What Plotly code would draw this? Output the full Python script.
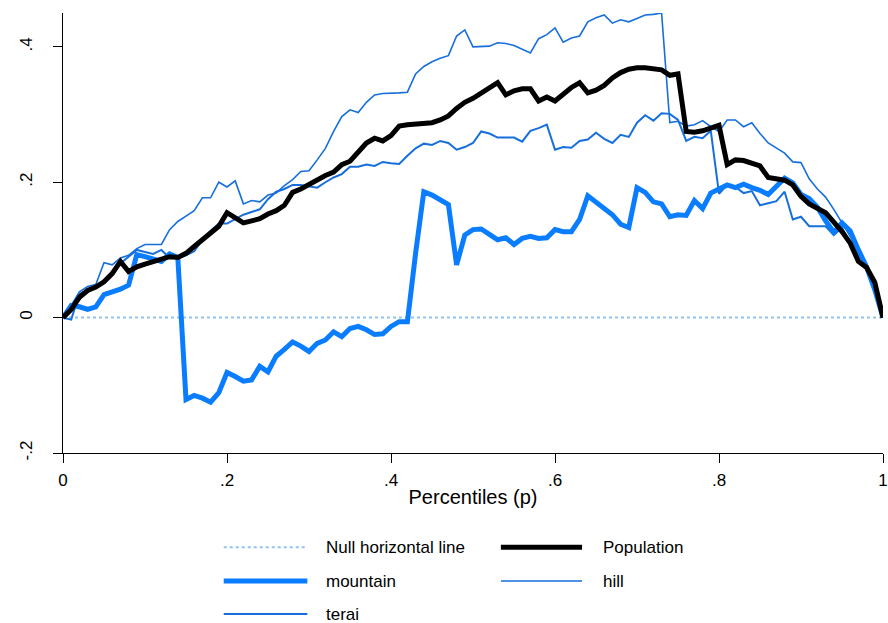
import plotly.graph_objects as go

# Percentiles (p)
p = [0.00, 0.01, 0.02, 0.03, 0.04, 0.05, 0.06, 0.07, 0.08, 0.09,
     0.10, 0.11, 0.12, 0.13, 0.14, 0.15, 0.16, 0.17, 0.18, 0.19,
     0.20, 0.21, 0.22, 0.23, 0.24, 0.25, 0.26, 0.27, 0.28, 0.29,
     0.30, 0.31, 0.32, 0.33, 0.34, 0.35, 0.36, 0.37, 0.38, 0.39,
     0.40, 0.41, 0.42, 0.43, 0.44, 0.45, 0.46, 0.47, 0.48, 0.49,
     0.50, 0.51, 0.52, 0.53, 0.54, 0.55, 0.56, 0.57, 0.58, 0.59,
     0.60, 0.61, 0.62, 0.63, 0.64, 0.65, 0.66, 0.67, 0.68, 0.69,
     0.70, 0.71, 0.72, 0.73, 0.74, 0.75, 0.76, 0.77, 0.78, 0.79,
     0.80, 0.81, 0.82, 0.83, 0.84, 0.85, 0.86, 0.87, 0.88, 0.89,
     0.90, 0.91, 0.92, 0.93, 0.94, 0.95, 0.96, 0.97, 0.98, 0.99, 1.00]

population = [0, 0.012, 0.030, 0.040, 0.045, 0.053, 0.065, 0.083, 0.068, 0.075,
              0.079, 0.083, 0.086, 0.090, 0.089, 0.095, 0.105, 0.115, 0.126, 0.135,
              0.155, 0.148, 0.140, 0.143, 0.146, 0.153, 0.158, 0.166, 0.185, 0.190,
              0.197, 0.203, 0.210, 0.215, 0.226, 0.231, 0.245, 0.258, 0.265, 0.261,
              0.269, 0.283, 0.285, 0.286, 0.287, 0.288, 0.292, 0.298, 0.309, 0.318,
              0.324, 0.331, 0.340, 0.347, 0.329, 0.335, 0.338, 0.338, 0.320, 0.326,
              0.320, 0.330, 0.340, 0.347, 0.332, 0.336, 0.343, 0.354, 0.362, 0.367,
              0.369, 0.369, 0.368, 0.366, 0.358, 0.360, 0.275, 0.274, 0.276, 0.280,
              0.284, 0.226, 0.233, 0.232, 0.228, 0.224, 0.207, 0.205, 0.203, 0.196,
              0.179, 0.168, 0.162, 0.155, 0.141, 0.127, 0.110, 0.083, 0.074, 0.052, 0]

mountain = [0, 0.018, 0.016, 0.012, 0.016, 0.034, 0.038, 0.042, 0.048, 0.093,
            0.090, 0.087, 0.083, 0.094, 0.089, -0.121, -0.115, -0.119, -0.125, -0.111,
            -0.081, -0.087, -0.094, -0.092, -0.072, -0.080, -0.057, -0.047, -0.036, -0.042,
            -0.050, -0.038, -0.033, -0.021, -0.028, -0.016, -0.013, -0.018, -0.025, -0.024,
            -0.013, -0.006, -0.006, 0.095, 0.186, 0.181, 0.175, 0.167, 0.078, 0.122,
            0.130, 0.131, 0.123, 0.115, 0.118, 0.108, 0.117, 0.120, 0.117, 0.118,
            0.130, 0.127, 0.127, 0.145, 0.180, 0.170, 0.160, 0.152, 0.138, 0.133,
            0.192, 0.185, 0.171, 0.168, 0.149, 0.152, 0.151, 0.173, 0.161, 0.184,
            0.190, 0.196, 0.192, 0.197, 0.192, 0.188, 0.182, 0.195, 0.206, 0.199,
            0.182, 0.176, 0.163, 0.143, 0.126, 0.140, 0.128, 0.100, 0.075, 0.041, 0]

hill = [0, 0.018, 0.038, 0.046, 0.049, 0.081, 0.078, 0.088, 0.092, 0.102,
        0.108, 0.108, 0.108, 0.130, 0.142, 0.150, 0.158, 0.177, 0.177, 0.200,
        0.193, 0.202, 0.168, 0.173, 0.171, 0.181, 0.184, 0.195, 0.204, 0.216,
        0.217, 0.233, 0.250, 0.275, 0.297, 0.307, 0.303, 0.318, 0.329, 0.331,
        0.331, 0.332, 0.333, 0.360, 0.371, 0.378, 0.383, 0.387, 0.416, 0.425,
        0.400, 0.400, 0.401, 0.406, 0.405, 0.402, 0.396, 0.391, 0.412, 0.418,
        0.428, 0.407, 0.413, 0.416, 0.437, 0.443, 0.447, 0.435, 0.440, 0.437,
        0.442, 0.447, 0.448, 0.450, 0.288, 0.290, 0.283, 0.285, 0.291, 0.282,
        0.275, 0.292, 0.292, 0.282, 0.288, 0.272, 0.258, 0.250, 0.243, 0.230,
        0.229, 0.205, 0.190, 0.178, 0.160, 0.140, 0.120, 0.097, 0.075, 0.046, 0]

terai = [0, -0.003, 0.035, 0.040, 0.046, 0.055, 0.063, 0.080, 0.090, 0.100,
         0.097, 0.094, 0.100, 0.088, 0.088, 0.092, 0.098, 0.115, 0.128, 0.139,
         0.139, 0.145, 0.152, 0.156, 0.160, 0.175, 0.186, 0.190, 0.196, 0.196,
         0.194, 0.192, 0.200, 0.207, 0.212, 0.223, 0.223, 0.226, 0.224, 0.230,
         0.228, 0.227, 0.239, 0.250, 0.257, 0.255, 0.261, 0.258, 0.248, 0.252,
         0.258, 0.275, 0.272, 0.266, 0.266, 0.266, 0.260, 0.276, 0.280, 0.285,
         0.248, 0.252, 0.251, 0.261, 0.263, 0.273, 0.264, 0.258, 0.270, 0.267,
         0.288, 0.299, 0.291, 0.302, 0.301, 0.292, 0.261, 0.267, 0.265, 0.276,
         0.183, 0.196, 0.193, 0.184, 0.187, 0.166, 0.169, 0.172, 0.186, 0.145,
         0.149, 0.135, 0.135, 0.135, 0.122, 0.133, 0.108, 0.093, 0.075, 0.050, 0]

null_x = [0, 1]
null_y = [0, 0]

x_tickvals = [0, 0.2, 0.4, 0.6, 0.8, 1]
x_ticktext = ["0", ".2", ".4", ".6", ".8", "1"]
y_tickvals = [-0.2, 0, 0.2, 0.4]
y_ticktext = ["-.2", "0", ".2", ".4"]

FONT = "Liberation Sans, Arial, sans-serif"
C_NULL = "#8fc3f5"
C_MOUNT = "#0a7dff"
C_THIN = "#166fdc"

series = [
    ("Null horizontal line", null_x, null_y, dict(color=C_NULL, width=2, dash="dot")),
    ("Population", p, population, dict(color="black", width=5)),
    ("mountain", p, mountain, dict(color=C_MOUNT, width=5)),
    ("hill", p, hill, dict(color=C_THIN, width=1.6)),
    ("terai", p, terai, dict(color=C_THIN, width=2)),
]

fig = go.Figure()
draw_order = [0, 4, 3, 2, 1]
for i in draw_order:
    name, xs, ys, ln = series[i]
    fig.add_trace(go.Scatter(x=xs, y=ys, mode="lines", name=name, line=ln,
                             showlegend=False))

# Manual two-column legend
legend_pos = [(0, 0), (1, 0), (0, 1), (1, 1), (0, 2)]
col_x = [(0.196, 0.298, 0.318), (0.534, 0.633, 0.656)]
row_y = [-0.214, -0.291, -0.366]
for (name, xs, ys, ln), (c, r) in zip(series, legend_pos):
    x0, x1, xt = col_x[c]
    y = row_y[r]
    fig.add_shape(type="line", xref="paper", yref="paper", x0=x0, x1=x1, y0=y, y1=y,
                  line=dict(color=ln["color"], width=ln["width"], dash=ln.get("dash", "solid")))
    fig.add_annotation(xref="paper", yref="paper", x=xt, y=y, text=name, showarrow=False,
                       xanchor="left", yanchor="middle",
                       font=dict(family=FONT, size=17, color="black"))

fig.update_layout(
    width=888, height=623,
    margin=dict(l=63, r=5, t=13, b=170),
    paper_bgcolor="white", plot_bgcolor="white",
    font=dict(family=FONT, size=16, color="black"),
    showlegend=False,
)
fig.update_xaxes(range=[0, 1], tickvals=x_tickvals, ticktext=x_ticktext,
                 showgrid=False, zeroline=False, showline=True, linecolor="black",
                 linewidth=1, ticks="outside", ticklen=9, tickcolor="black",
                 tickfont=dict(family=FONT, size=17), ticklabeloverflow="allow",
                 ticklabelstandoff=3, automargin=False,
                 title=dict(text="Percentiles (p)", font=dict(family=FONT, size=20), standoff=0))
fig.update_yaxes(range=[-0.2, 0.45], tickvals=y_tickvals, ticktext=y_ticktext,
                 showgrid=False, zeroline=False, showline=True, linecolor="black",
                 linewidth=1, ticks="outside", ticklen=9, tickcolor="black",
                 tickangle=-90, tickfont=dict(family=FONT, size=17),
                 ticklabelstandoff=14, automargin=False)

fig.write_html("out.html")
